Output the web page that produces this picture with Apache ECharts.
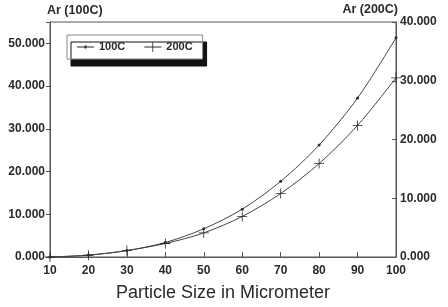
<!DOCTYPE html>
<html>
<head>
<meta charset="utf-8">
<script src="https://cdn.jsdelivr.net/npm/echarts@6/dist/echarts.min.js"></script>
<style>
  html, body { margin: 0; padding: 0; background: #fff; }
  #chart { width: 448px; height: 307px; }
</style>
</head>
<body>
<div id="chart"></div>
<script>
// particle size (micrometer)
var sizes = [10, 20, 30, 40, 50, 60, 70, 80, 90, 100];
// Ar values
var ar100 = [0.0, 0.45, 1.5, 3.4, 6.6, 11.2, 17.7, 26.2, 37.2, 51.3];
var ar200 = [0.0, 0.3, 1.1, 2.3, 4.1, 6.9, 10.8, 15.9, 22.4, 30.5];

var ink = '#2a2a2a';
var font = 'Liberation Sans';
var plusPath = 'path://M0,4.6H10V5.4H0Z M4.6,0H5.4V10H4.6Z';

function pairs(ys) {
  return sizes.map(function (x, i) { return [x, ys[i]]; });
}
function fmt(v) {
  return v > 50 ? '' : v.toFixed(3);
}

var myChart = echarts.init(document.getElementById('chart'));
var option = {
  animation: false,
  textStyle: { fontFamily: font },
  grid: {
    left: 50, right: 52, top: 22, bottom: 46,
    show: true, borderColor: '#555', borderWidth: 1
  },
  legend: {
    left: 67, top: 35,
    padding: [6, 10, 6, 10],
    itemWidth: 17, itemHeight: 10, itemGap: 19,
    backgroundColor: '#fff',
    borderColor: '#888', borderWidth: 1,
    shadowColor: '#111', shadowBlur: 0, shadowOffsetX: 4, shadowOffsetY: 7,
    textStyle: { color: ink, fontSize: 11, fontWeight: 'bold', fontFamily: font, lineHeight: 12 },
    data: [
      { name: '100C', icon: 'path://M0,4.6H17V5.4H0Z M7.5,3.5H9.5V6.5H7.5Z' },
      { name: '200C', icon: 'path://M0,4.6H17V5.4H0Z M8.1,0H8.9V10H8.1Z' }
    ]
  },
  xAxis: {
    type: 'value', min: 10, max: 100, interval: 10,
    name: 'Particle Size in Micrometer',
    nameLocation: 'middle', nameGap: 27,
    nameTextStyle: { color: ink, fontSize: 18, fontFamily: font },
    axisLine: { lineStyle: { color: '#555' } },
    axisTick: { inside: true, length: 5, lineStyle: { color: '#555' } },
    axisLabel: { color: ink, fontSize: 12, fontWeight: 'bold', margin: 8 },
    splitLine: { show: false }
  },
  yAxis: [
    {
      type: 'value', min: 0, max: 55, interval: 10,
      name: 'Ar (100C)', nameLocation: 'end', nameGap: 5,
      nameTextStyle: { color: ink, fontSize: 12.5, fontWeight: 'bold', align: 'left', padding: [0, 0, 0, -3] },
      axisLine: { show: true, lineStyle: { color: '#555' } },
      axisTick: { show: true, length: 4, lineStyle: { color: '#555' } },
      axisLabel: { color: ink, fontSize: 12, fontWeight: 'bold', margin: 5, formatter: fmt },
      splitLine: { show: false }
    },
    {
      type: 'value', min: 0, max: 40, interval: 10, position: 'right',
      name: 'Ar (200C)', nameLocation: 'end', nameGap: 5,
      nameTextStyle: { color: ink, fontSize: 12.5, fontWeight: 'bold', align: 'right', padding: [0, -2, 0, 0] },
      axisLine: { show: true, lineStyle: { color: '#555' } },
      axisTick: { show: true, inside: true, length: 4, lineStyle: { color: '#555' } },
      axisLabel: { color: ink, fontSize: 12, fontWeight: 'bold', margin: 4, formatter: function (v) { return v.toFixed(3); } },
      splitLine: { show: false }
    }
  ],
  series: [
    {
      name: '100C', type: 'line', yAxisIndex: 0,
      smooth: 0.3,
      symbol: 'circle', symbolSize: 3,
      itemStyle: { color: ink },
      lineStyle: { color: '#444', width: 1 },
      data: pairs(ar100)
    },
    {
      name: '200C', type: 'line', yAxisIndex: 1,
      smooth: 0.3,
      symbol: plusPath, symbolSize: 10,
      itemStyle: { color: ink },
      lineStyle: { color: '#444', width: 1 },
      data: pairs(ar200)
    }
  ]
};
myChart.setOption(option);
</script>
</body>
</html>
